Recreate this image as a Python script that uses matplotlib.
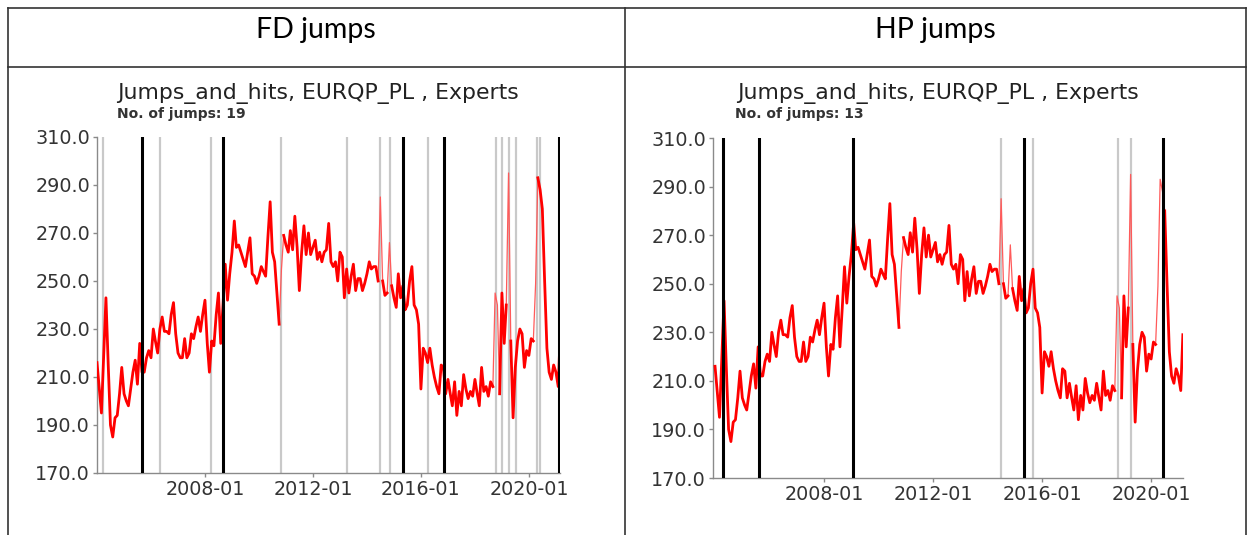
import numpy as np
import pandas as pd
import matplotlib
matplotlib.use("Agg")
import matplotlib.pyplot as plt
import matplotlib.dates as mdates
from matplotlib.lines import Line2D

# ---------------- data ----------------
start_month = "2004-01-01"
values = [
    216, 205, 195, 220, 243, 215, 190, 185, 193, 194,   # 2004
    203, 214, 203, 200, 198, 205, 212, 217, 207, 224,
    212, 212, 218, 221, 218, 230, 225, 220, 230, 235,
    229, 229, 228, 236, 241, 228, 220, 218, 218, 226,
    218, 220, 228, 226, 231, 235, 229, 236, 242, 224,
    212, 225, 223, 236, 245, 224, 240, 257, 242, 253,
    262, 275, 264, 265, 262, 259, 256, 262, 268, 253,
    252, 249, 252, 256, 254, 252, 268, 283, 262, 258,
    245, 232, 255, 269, 265, 262, 271, 263, 277, 264,
    246, 262, 273, 261, 270, 261, 264, 267, 259, 262,
    258, 262, 263, 274, 258, 256, 258, 250, 262, 260,
    243, 255, 245, 252, 257, 246, 251, 251, 246, 249,
    253, 258, 255, 256, 256, 250, 285, 250, 244, 245,
    266, 248, 243, 239, 253, 243, 248, 238, 240, 250,
    256, 240, 238, 232, 205, 222, 220, 216, 222, 215,
    210, 206, 203, 215, 214, 203, 209, 203, 198, 208,
    194, 204, 198, 211, 205, 201, 204, 202, 209, 203,
    198, 214, 204, 206, 202, 208, 206, 245, 240, 203,
    245, 224, 240, 295, 225, 193, 214, 225, 230, 228,
    214, 221, 219, 226, 225, 249, 293, 288, 280, 250,
    222, 212, 209, 215, 212, 206, 229,
]
# months drawn as a thin, faint segment (isolated spikes)
fd_thin = [82, 126, 130, 177, 178, 183, 195]
hp_thin = [82, 126, 130, 177, 178, 183, 195, 196, 197]

fd_jumps_black = ["2005-09-01", "2008-09-01", "2015-05-01", "2016-11-07", "2021-02-10"]
fd_jumps_gray = ["2004-03-21", "2006-05-01", "2008-03-21", "2010-10-25", "2013-04-04",
                 "2014-06-25", "2014-11-07", "2016-04-04", "2018-10-11", "2019-01-01",
                 "2019-04-04", "2019-07-08", "2020-04-17", "2020-05-28"]
hp_jumps_black = ["2004-04-16", "2005-08-12", "2009-01-25", "2015-05-03", "2020-06-10"]
hp_jumps_gray = ["2014-06-28", "2015-09-01", "2018-10-15", "2019-04-05"]

header_labels = ["FD jumps", "HP jumps"]
chart_title = "Jumps_and_hits, EURQP_PL , Experts"
n_jumps = [19, 13]
y_ticks = [170, 190, 210, 230, 250, 270, 290, 310]
x_ticks = ["2008-01-01", "2012-01-01", "2016-01-01", "2020-01-01"]

# ---------------- figure ----------------
W, H = 1251, 535
fig = plt.figure(figsize=(W / 100, H / 100), dpi=100)
fig.patch.set_facecolor("white")

def fx(px):
    return px / W

def fy(py):
    return 1 - py / H

# table borders
border_col = "#333333"
for (x0, y0, x1, y1) in [(8, 8, 1246, 8), (8, 67, 1246, 67), (8, 8, 8, 540),
                         (1246, 8, 1246, 540), (624.5, 8, 624.5, 540)]:
    fig.add_artist(Line2D([fx(x0), fx(x1)], [fy(y0), fy(y1)], color=border_col,
                          lw=1.2, transform=fig.transFigure))

fig.text(fx(316), fy(30), header_labels[0], ha="center", va="center",
         fontsize=20.5, family="Lato", color="black")
fig.text(fx(935), fy(30), header_labels[1], ha="center", va="center",
         fontsize=20.5, family="Lato", color="black")

dates = pd.date_range(start_month, periods=len(values), freq="MS")
vals = np.array(values, dtype=float)

def draw(ax_rect, thin, blacks, grays, title_xy, sub_xy, njump, xlim):
    ax = fig.add_axes(ax_rect)
    thick = vals.copy()
    thick[thin] = np.nan
    faint = np.full_like(vals, np.nan)
    for i in thin:
        for j in (i - 1, i, i + 1):
            if 0 <= j < len(vals):
                faint[j] = vals[j]
    for d in grays:
        ax.axvline(pd.Timestamp(d), color="#c9c9c9", lw=1.6, zorder=1)
    ax.plot(dates, faint, color="#ff5a5a", lw=0.9, zorder=2)
    ax.plot(dates, thick, color="#ff0000", lw=2.0, zorder=3)
    for d in blacks:
        ax.axvline(pd.Timestamp(d), color="black", lw=2.2, zorder=4)
    ax.set_ylim(170, 310)
    ax.set_xlim(pd.Timestamp(xlim[0]), pd.Timestamp(xlim[1]))
    ax.set_yticks(y_ticks)
    ax.set_yticklabels([f"{v:.1f}" for v in y_ticks])
    ax.set_xticks([pd.Timestamp(t) for t in x_ticks])
    ax.xaxis.set_major_formatter(mdates.DateFormatter("%Y-%m"))
    for s in ("top", "right"):
        ax.spines[s].set_visible(False)
    for s in ("left", "bottom"):
        ax.spines[s].set_color("#8a8a8a")
        ax.spines[s].set_linewidth(1.0)
    ax.tick_params(axis="both", colors="#8a8a8a", length=3, width=1,
                   labelcolor="#333333", labelsize=13.8, pad=2)
    fig.text(fx(title_xy[0]), fy(title_xy[1]), chart_title, ha="center",
             va="center", fontsize=15.8, color="#222222", family="DejaVu Sans")
    fig.text(fx(sub_xy[0]), fy(sub_xy[1]), f"No. of jumps: {njump}", ha="left",
             va="center", fontsize=10.0, fontweight="bold", color="#333333",
             family="DejaVu Sans")
    return ax

draw([fx(97), fy(473), fx(560) - fx(97), fy(137) - fy(473)], fd_thin,
     fd_jumps_black, fd_jumps_gray, (318, 93), (117, 114), n_jumps[0],
     ("2004-01-01", "2021-02-25"))
draw([fx(713), fy(478), fx(1183) - fx(713), fy(138) - fy(478)], hp_thin,
     hp_jumps_black, hp_jumps_gray, (938, 93), (735, 114), n_jumps[1],
     ("2003-12-05", "2021-03-03"))

fig.savefig("out.png", dpi=100, facecolor="white")
